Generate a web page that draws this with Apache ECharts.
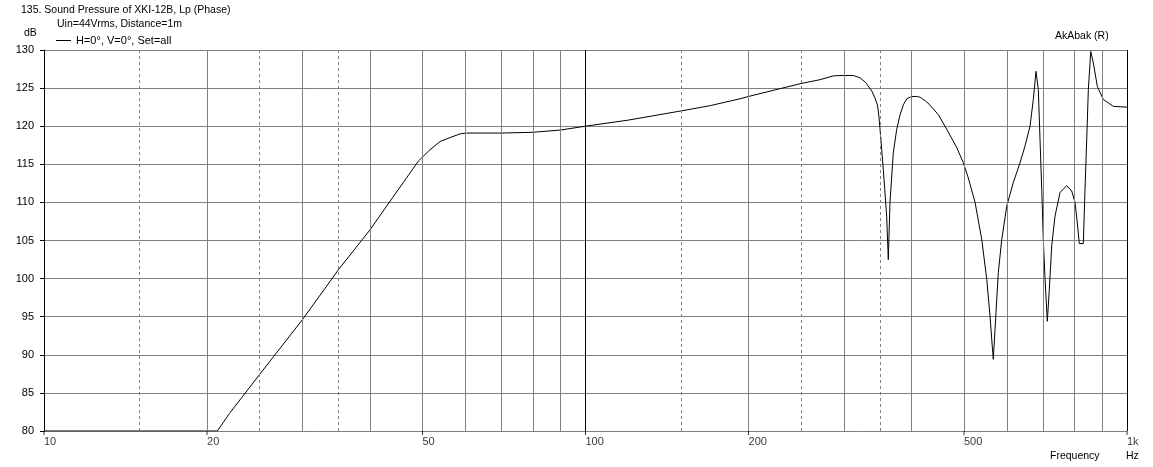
<!DOCTYPE html>
<html><head><meta charset="utf-8">
<script src="https://cdn.jsdelivr.net/npm/echarts@6/dist/echarts.min.js"></script>
<style>html,body{margin:0;padding:0;background:#fff;}#c{width:1153px;height:467px;}</style>
</head><body><div id="c"></div>
<script>
// Frequency (Hz) and sound pressure level (dB)
const freqHz = [10, 20.9, 22, 25, 30, 35, 40, 44, 46.6, 49.1, 51.6, 53.9, 56.2, 58.7, 60.3, 70, 80, 90, 100, 120, 150, 170, 192.9, 200, 222, 250, 271, 286.8, 295, 312.4, 321.3, 329.5, 337.9, 342, 346, 348, 350, 354.8, 359.9, 362.4, 365, 370.2, 375.6, 381, 386.3, 392, 400.5, 409, 414.9, 424.6, 431, 448.4, 464.6, 484.8, 498.6, 509.3, 524.1, 539.3, 550.8, 558.5, 565, 566.4, 570.5, 578.6, 587, 599.6, 616.6, 634.5, 648.1, 662.1, 671.4, 679.1, 685.9, 690.8, 695.9, 700.6, 705.8, 712.6, 718.7, 726.1, 736.3, 752.2, 773.8, 790.5, 801.7, 809.5, 816.5, 830.5, 836.5, 842.6, 848.4, 857.1, 866.7, 881.6, 904.3, 943.5, 1000];
const splDb = [80, 80, 82.3, 87.4, 94.6, 101.2, 106.4, 110.6, 113.1, 115.4, 116.9, 118.0, 118.5, 119.0, 119.1, 119.1, 119.2, 119.5, 120.0, 120.8, 122.0, 122.7, 123.6, 123.9, 124.7, 125.6, 126.1, 126.6, 126.65, 126.65, 126.35, 125.7, 124.6, 123.8, 122.8, 121.5, 119.5, 114.3, 108.2, 102.5, 110.0, 116.5, 119.6, 121.5, 122.8, 123.6, 123.9, 123.9, 123.8, 123.3, 122.9, 121.5, 119.6, 117.2, 115.2, 113.2, 110.0, 105.1, 99.9, 95.1, 90.3, 89.4, 93.3, 100.8, 105.1, 109.5, 112.6, 115.2, 117.4, 120.0, 123.5, 127.2, 124.8, 118.3, 111.7, 105.1, 99.9, 94.4, 98.6, 104.3, 108.2, 111.3, 112.2, 111.5, 110.0, 107.3, 104.6, 104.6, 111.7, 118.3, 124.8, 129.8, 128.3, 125.2, 123.5, 122.6, 122.5];

const solidGridHz = [20, 30, 40, 50, 60, 70, 80, 90, 200, 300, 400, 500, 600, 700, 800, 900];
const dashedGridHz = [15, 25, 35, 150, 250, 350];
const decadeGridHz = [100, 1000];
const xTickHz = [10, 20, 50, 100, 200, 500, 1000];
const xTickLabels = ['10', '20', '50', '100', '200', '500', '1k'];
const yMin = 80, yMax = 130, yStep = 5;

const FONT = 'Liberation Sans';
const TXT = '10.5px "Liberation Sans"';
const seriesName = 'H=0°, V=0°, Set=all';

const markData = []
  .concat(solidGridHz.map(f => ({ xAxis: f, lineStyle: { color: '#808080', type: 'solid', width: 1 } })))
  .concat(dashedGridHz.map(f => ({ xAxis: f, lineStyle: { color: '#808080', type: [3, 3], width: 1 } })))
  .concat(decadeGridHz.map(f => ({ xAxis: f, lineStyle: { color: '#000', type: 'solid', width: 1 } })));

const chart = echarts.init(document.getElementById('c'), null, { renderer: 'canvas' });
chart.setOption({
  animation: false,
  backgroundColor: '#fff',
  textStyle: { fontFamily: FONT },
  grid: { left: 44, right: 26, top: 50, bottom: 36, containLabel: false },
  legend: {
    data: [{ name: seriesName, icon: 'rect' }], left: 51, top: 30, itemWidth: 15, itemHeight: 1, itemGap: 6,
    textStyle: { fontFamily: FONT, fontSize: 11, color: '#000' }, selectedMode: false
  },
  xAxis: {
    type: 'log', logBase: 10, min: 10, max: 1000,
    axisLine: { show: false }, axisTick: { show: false }, axisLabel: { show: false },
    splitLine: { show: false }, minorSplitLine: { show: false }
  },
  yAxis: {
    type: 'value', min: yMin, max: yMax, interval: yStep,
    axisLine: { show: true, lineStyle: { color: '#000', width: 1 } },
    axisTick: { show: true, length: 4, lineStyle: { color: '#000' } },
    axisLabel: { fontFamily: FONT, fontSize: 11, color: '#000', margin: 10, padding: [0, 0, 8, 0] },
    splitLine: { show: true, lineStyle: { color: '#808080', width: 1 } }
  },
  graphic: [
    { type: 'text', left: 21, top: 5, style: { text: '135. Sound Pressure of XKI-12B, Lp (Phase)', font: TXT, fill: '#000' } },
    { type: 'text', left: 57, top: 19, style: { text: 'Uin=44Vrms, Distance=1m', font: TXT, fill: '#000' } },
    { type: 'text', left: 24, top: 28, style: { text: 'dB', font: TXT, fill: '#000' } },
    { type: 'text', left: 1055, top: 31, style: { text: 'AkAbak (R)', font: TXT, fill: '#000' } },
    { type: 'text', left: 1050, top: 451, style: { text: 'Frequency', font: TXT, fill: '#000' } },
    { type: 'text', left: 1126, top: 451, style: { text: 'Hz', font: TXT, fill: '#000' } }
  ],
  series: [
    {
      name: 'grid', type: 'line', data: [], z: 1, silent: true,
      markLine: { silent: true, symbol: 'none', animation: false, label: { show: false }, data: markData }
    },
    {
      name: 'ticks', type: 'scatter', z: 2, silent: true, clip: false,
      data: xTickHz.map(f => [f, yMin]),
      symbol: 'rect', symbolSize: [1, 4], symbolOffset: [0, 2],
      itemStyle: { color: '#000' },
      label: {
        show: true, position: 'bottom', align: 'left', distance: 1,
        fontFamily: FONT, fontSize: 11, color: '#000',
        formatter: p => xTickLabels[p.dataIndex]
      }
    },
    {
      name: seriesName, type: 'line', z: 3, showSymbol: false, symbol: 'none', smooth: false,
      clip: true,
      lineStyle: { color: '#000', width: 1 },
      itemStyle: { color: '#000' },
      data: freqHz.map((f, i) => [f, splDb[i]])
    }
  ]
});
</script>
</body></html>
